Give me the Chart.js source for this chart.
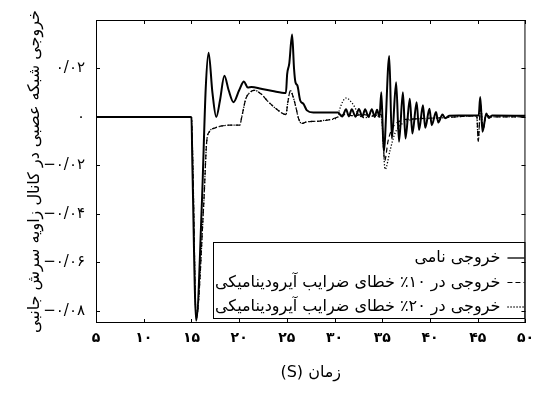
<!DOCTYPE html>
<html>
<head>
<meta charset="utf-8">
<script src="https://cdn.jsdelivr.net/npm/chart.js@4.4.1/dist/chart.umd.min.js"></script>
<style>
  html, body { margin: 0; padding: 0; background: #fff; }
  #wrap { width: 541px; height: 394px; }
</style>
</head>
<body>
<div id="wrap"><canvas id="chart" width="541" height="394"></canvas></div>
<script>
// ── Données ────────────────────────────────────────────────────────────────

const LABELS = [
  'خروجی نامی',
  'خروجی در ۱۰٪ خطای ضرایب آیرودینامیکی',
  'خروجی در ۲۰٪ خطای ضرایب آیرودینامیکی',
];

const X_TICKS = [5, 10, 15, 20, 25, 30, 35, 40, 45, 50];
const Y_TICKS = [-0.08, -0.06, -0.04, -0.02, 0, 0.02];

// خروجی نامی
const tNominal = [5, 15.0, 15.1, 15.5, 16.1, 16.5, 16.8, 17.2, 17.6, 18.0, 18.45, 18.9, 19.4, 20.0, 20.5, 20.9, 21.3, 22.3, 23.5, 24.9,
  25.03, 25.25, 25.55, 25.75, 25.9, 26.1, 26.4, 26.74, 27.1, 27.77, 30.35,
  30.8, 31.2, 31.5, 31.8, 32.2, 32.55, 32.9, 33.2, 33.55, 33.9, 34.2, 34.45, 34.7,
  34.9, 35.15, 35.73, 36.0, 36.45, 36.75, 37.16, 37.43, 37.88, 38.15, 38.6, 38.85, 39.26, 39.5, 39.94, 40.18, 40.63, 40.87, 41.3, 41.6, 42.0,
  43.0, 45.1, 45.26, 45.5, 45.9, 46.15, 46.5, 50];
const vNominal = [0, 0, -0.02, -0.084, -0.035, 0.012, 0.0265, 0.01, 0.0, 0.007, 0.017, 0.011, 0.0061, 0.011, 0.0146, 0.0122, 0.0124, 0.0116, 0.0107, 0.0099,
  0.0177, 0.022, 0.034, 0.02, 0.0143, 0.013, 0.0068, 0.0054, 0.0027, 0.0018, 0.0018,
  0.0002, 0.0032, 0.0002, 0.0032, 0.0001, 0.0033, 0.0001, 0.0032, 0.0, 0.0032, 0.0, 0.003, 0.0,
  0.0102, -0.0143, 0.0252, -0.0089, 0.0143, -0.0102, 0.0102, -0.0089, 0.0075, -0.0068, 0.0061, -0.0054, 0.0048, -0.0045, 0.0034, -0.0034, 0.002, -0.0023, 0.001, -0.0005, 0.0005,
  0.0006, 0.0006, 0.0082, -0.0061, 0.0014, -0.0004, 0.0006, 0.0005];

// خطای ۱۰٪
const tErr10 = [5, 15.0, 15.15, 15.5, 16.3, 16.6, 16.9, 17.5, 18.2, 19.0, 20.05, 20.3, 20.7, 21.25, 21.6, 22.3, 23.0, 24.0, 24.9,
  25.1, 25.37, 25.6, 25.9, 26.23, 26.57, 27.1, 28.1, 29.5, 30.35,
  31.0, 32.0, 33.0, 34.0, 34.9, 35.25, 35.6, 36.0, 36.5, 37.2, 38.0, 40.0, 41.5, 44.9,
  45.05, 45.3, 45.55, 45.9, 46.3, 50];
const vErr10 = [0, 0, -0.02, -0.083, -0.035, -0.0102, -0.006, -0.0045, -0.0037, -0.0034, -0.0034, 0.0005, 0.0075, 0.0105, 0.011, 0.0095, 0.0065, 0.003, 0.001,
  0.006, 0.0109, 0.009, 0.0048, -0.0007, -0.0027, -0.002, -0.0018, -0.0011, 0,
  0.001, 0.0005, 0.001, 0.0005, 0.001, -0.018, -0.01, -0.005, -0.0025, -0.0012, -0.0008, -0.0005, -0.0003, 0.0005,
  -0.010, 0.005, -0.005, 0.001, 0, 0];

// خطای ۲۰٪
const tErr20 = [5, 15.0, 15.15, 15.5, 16.3, 16.6, 16.9, 17.5, 18.2, 19.0, 20.05, 20.3, 20.7, 21.25, 21.6, 22.3, 23.0, 24.0, 24.9,
  25.1, 25.37, 25.6, 25.9, 26.23, 26.57, 27.1, 28.1, 29.5, 30.35,
  30.5, 31.2, 31.9, 32.6, 33.2, 34.0, 34.9, 35.3, 35.8, 36.3, 37.0, 38.0, 40.0, 41.5, 44.9,
  45.05, 45.3, 45.55, 45.9, 46.3, 50];
const vErr20 = [0, 0, -0.02, -0.083, -0.035, -0.0102, -0.006, -0.0045, -0.0037, -0.0034, -0.0034, 0.0005, 0.0075, 0.0105, 0.011, 0.0095, 0.0065, 0.003, 0.001,
  0.006, 0.0109, 0.009, 0.0048, -0.0007, -0.0027, -0.002, -0.0018, -0.0011, 0,
  0.0027, 0.0078, 0.0054, 0.0007, -0.0003, 0.0003, 0.0, -0.0216, -0.014, -0.007, -0.003, -0.0012, -0.0006, -0.0003, 0.0005,
  -0.010, 0.005, -0.005, 0.001, 0, 0];

// ── Helpers ────────────────────────────────────────────────────────────────

const FA_DIGITS = '۰۱۲۳۴۵۶۷۸۹';
const toFa = s => String(s).replace(/[0-9]/g, d => FA_DIGITS[d]).replace('.', '/');
const rtl = s => '\u202B' + s + '\u202C';
const pts = (ts, vs) => ts.map((t, i) => ({ x: t, y: vs[i] }));
const FONT = "'DejaVu Sans', sans-serif";

const line = (label, ts, vs, width, dash) => ({
  label, data: pts(ts, vs),
  borderColor: '#000', borderWidth: width, borderDash: dash,
  pointRadius: 0, cubicInterpolationMode: 'monotone', fill: false,
});

// ── Cadre + graduations vers l'intérieur ───────────────────────────────────

const frame = {
  id: 'frame',
  afterDraw(chart) {
    const { ctx, chartArea: a, scales: { x, y } } = chart;
    const L = 4;
    ctx.save();
    ctx.strokeStyle = '#000';
    ctx.lineWidth = 1;
    ctx.strokeRect(a.left + 0.5, a.top + 0.5, a.right - a.left - 1, a.bottom - a.top - 1);
    ctx.beginPath();
    X_TICKS.forEach(v => {
      const px = Math.round(x.getPixelForValue(v)) + 0.5;
      ctx.moveTo(px, a.bottom); ctx.lineTo(px, a.bottom - L);
      ctx.moveTo(px, a.top);    ctx.lineTo(px, a.top + L);
    });
    Y_TICKS.forEach(v => {
      const py = Math.round(y.getPixelForValue(v)) + 0.5;
      ctx.moveTo(a.left, py);  ctx.lineTo(a.left + L, py);
      ctx.moveTo(a.right, py); ctx.lineTo(a.right - L, py);
    });
    ctx.stroke();
    ctx.restore();
  },
};

// ── Légende encadrée (rtl) ─────────────────────────────────────────────────

const boxLegend = {
  id: 'boxLegend',
  afterDatasetsDraw(chart) {
    const { ctx, chartArea: a } = chart;
    const bx = 213, by = 242, bw = a.right - 213, bh = 77;
    ctx.save();
    ctx.fillStyle = '#fff';
    ctx.fillRect(bx, by, bw, bh);
    ctx.strokeStyle = '#000';
    ctx.lineWidth = 1;
    ctx.strokeRect(bx + 0.5, by + 0.5, bw - 1, bh - 1);
    ctx.font = `16px ${FONT}`;
    ctx.fillStyle = '#000';
    ctx.textAlign = 'right';
    ctx.textBaseline = 'middle';
    ctx.direction = 'rtl';
    chart.data.datasets.forEach((ds, i) => {
      const ry = by + 16 + i * 24.5;
      ctx.beginPath();
      ctx.setLineDash(ds.borderDash || []);
      ctx.lineWidth = Math.min(ds.borderWidth, 1.3);
      ctx.moveTo(a.right - 18, ry); ctx.lineTo(a.right - 1, ry);
      ctx.stroke();
      ctx.setLineDash([]);
      ctx.fillText(ds.label, a.right - 25, ry);
    });
    ctx.restore();
  },
};

// ── Graphique ──────────────────────────────────────────────────────────────

new Chart(document.getElementById('chart'), {
  type: 'line',
  data: {
    datasets: [
      line(LABELS[0], tNominal, vNominal, 2, []),
      line(LABELS[1], tErr10, vErr10, 1.2, [5, 3]),
      line(LABELS[2], tErr20, vErr20, 1.3, [1.2, 1.8]),
    ],
  },
  options: {
    responsive: false, animation: false,
    layout: { padding: { top: 18, right: 8, left: 0, bottom: 0 } },
    plugins: { legend: { display: false }, tooltip: { enabled: false } },
    scales: {
      x: {
        type: 'linear', min: 5, max: 50,
        afterFit: s => { s.height = 71; },
        afterBuildTicks: s => { s.ticks = X_TICKS.map(v => ({ value: v })); },
        grid: { display: false, drawTicks: false },
        border: { display: false },
        ticks: { color: '#000', padding: 7, maxRotation: 0, font: { family: FONT, size: 14, weight: 'bold' }, callback: v => toFa(v) },
        title: { display: true, text: rtl('زمان (S)'), color: '#000', font: { family: FONT, size: 16 }, padding: { bottom: 12 } },
      },
      y: {
        type: 'linear', min: -0.085, max: 0.04,
        afterFit: s => { s.width = 96; },
        afterBuildTicks: s => { s.ticks = Y_TICKS.map(v => ({ value: v })); },
        grid: { display: false, drawTicks: false },
        border: { display: false },
        ticks: {
          color: '#000', padding: 11, font: { family: FONT, size: 15 },
          callback: v => v === 0 ? '۰' : (v < 0 ? '−' : '') + toFa(Math.abs(v).toFixed(2)),
        },
        title: { display: true, text: rtl('خروجی شبکه عصبی در کانال زاویه سرش جانبی'), color: '#000', font: { family: FONT, size: 16 }, padding: { top: 25 } },
      },
    },
  },
  plugins: [frame, boxLegend],
});
</script>
</body>
</html>
